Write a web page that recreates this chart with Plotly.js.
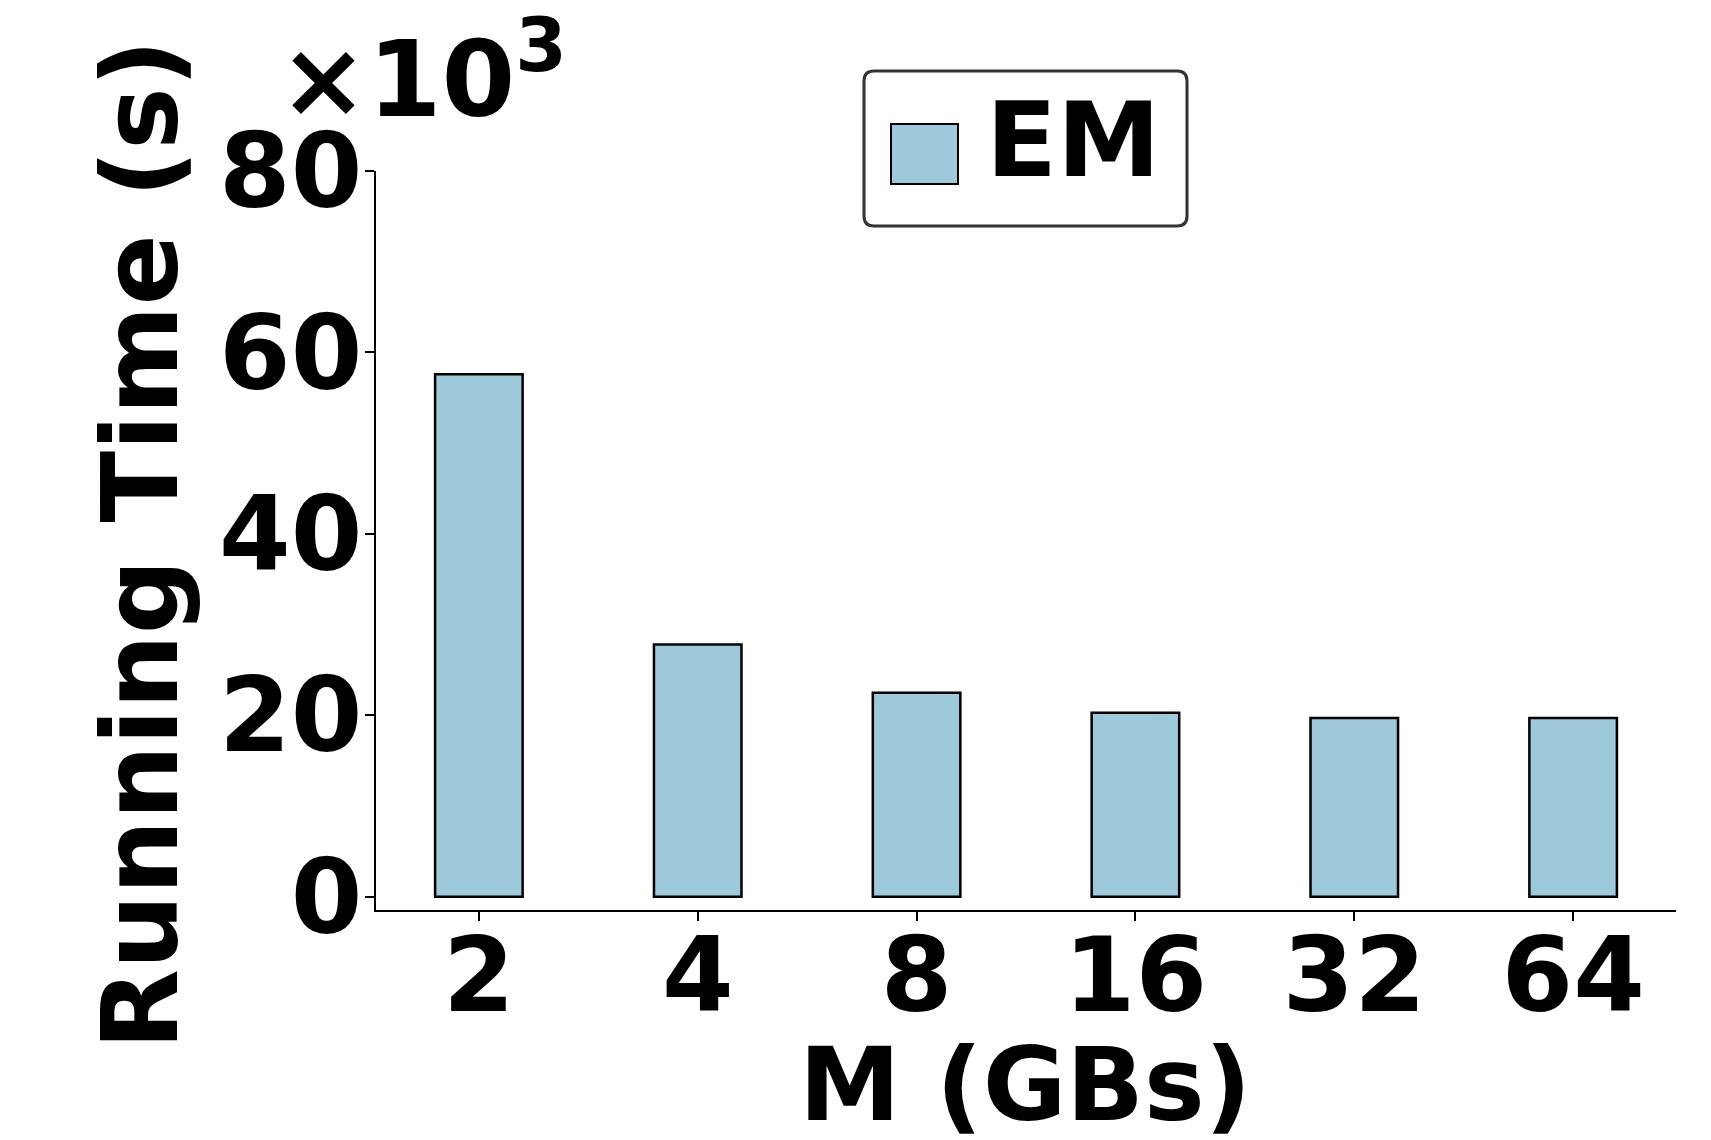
<!DOCTYPE html>
<html>
<head>
<meta charset="utf-8">
<script src="https://cdn.plot.ly/plotly-3.0.1.min.js"></script>
<style>html,body{margin:0;padding:0;background:#fff;}#chart{width:1711px;height:1140px;}</style>
</head>
<body>
<div id="chart"></div>
<script>
// Data
const memorySizes = ['2', '4', '8', '16', '32', '64'];
const runningTimeSec = [57600, 27800, 22500, 20300, 19700, 19700];
const seriesName = 'EM';
const yTickVals = [0, 20000, 40000, 60000, 80000];
const yTickText = ['0', '20', '40', '60', '80'];
const xTitle = 'M (GBs)';
const yTitle = 'Running Time (s)';

const FONT = {family: 'DejaVu Sans, Verdana, sans-serif', weight: 'bold', color: '#000'};
const BAR_COLOR = '#9dc9db';

const trace = {
  type: 'bar',
  name: seriesName,
  x: memorySizes,
  y: runningTimeSec,
  width: 0.4,
  marker: {color: BAR_COLOR, line: {color: '#000', width: 2.5}},
  showlegend: false,
  hoverinfo: 'x+y'
};

const L = 376, R = 35, T = 171, B = 230, W = 1711, H = 1140;
const pw = W - L - R, ph = H - T - B;
const px = v => (v - L) / pw;
const py = v => (H - B - v) / ph;

// custom legend geometry (pixels)
const lx0 = 864, lx1 = 1187, ly0 = 71, ly1 = 226, rr = 10;
const rx = rr / pw, ry = rr / ph;
const X0 = px(lx0), X1 = px(lx1), Y0 = py(ly1), Y1 = py(ly0);
const roundedPath = `M ${X0 + rx},${Y0} L ${X1 - rx},${Y0} Q ${X1},${Y0} ${X1},${Y0 + ry} L ${X1},${Y1 - ry} Q ${X1},${Y1} ${X1 - rx},${Y1} L ${X0 + rx},${Y1} Q ${X0},${Y1} ${X0},${Y1 - ry} L ${X0},${Y0 + ry} Q ${X0},${Y0} ${X0 + rx},${Y0} Z`;

const layout = {
  width: W, height: H,
  margin: {l: L, r: R, t: T, b: B, pad: 0},
  paper_bgcolor: '#fff', plot_bgcolor: '#fff',
  font: Object.assign({size: 100}, FONT),
  xaxis: {
    type: 'category',
    range: [-0.47, 5.47],
    showline: true, linecolor: '#000', linewidth: 2,
    ticks: 'outside', ticklen: 9, tickwidth: 2, tickcolor: '#000',
    tickfont: Object.assign({size: 103}, FONT),
    ticklabelstandoff: -34,
    showgrid: false, zeroline: false,
    automargin: false
  },
  yaxis: {
    range: [-1450, 80000],
    showline: true, linecolor: '#000', linewidth: 2,
    ticks: 'outside', ticklen: 9, tickwidth: 2, tickcolor: '#000',
    tickvals: yTickVals, ticktext: yTickText,
    tickfont: Object.assign({size: 103}, FONT),
    ticklabelstandoff: -18,
    showgrid: false, zeroline: false,
    automargin: false
  },
  shapes: [
    {type: 'path', xref: 'paper', yref: 'paper', path: roundedPath,
     fillcolor: 'rgba(255,255,255,0.8)', line: {color: '#333', width: 3}},
    {type: 'rect', xref: 'paper', yref: 'paper',
     x0: px(891), x1: px(958), y0: py(184), y1: py(124),
     fillcolor: BAR_COLOR, line: {color: '#000', width: 2}}
  ],
  annotations: [
    {text: xTitle, xref: 'paper', yref: 'paper', x: px(1025), y: py(1084),
     xanchor: 'center', yanchor: 'middle', showarrow: false,
     font: Object.assign({size: 102}, FONT)},
    {text: yTitle, xref: 'paper', yref: 'paper', x: px(141), y: py(545),
     xanchor: 'center', yanchor: 'middle', textangle: -90, showarrow: false,
     font: Object.assign({size: 105}, FONT)},
    {text: seriesName, xref: 'paper', yref: 'paper', x: px(984), y: py(140),
     xanchor: 'left', yanchor: 'middle', showarrow: false,
     font: Object.assign({size: 104}, FONT)},
    {text: '×10<sup>3</sup>', xref: 'paper', yref: 'paper', x: px(277), y: py(143),
     xanchor: 'left', yanchor: 'bottom', showarrow: false,
     font: Object.assign({size: 106}, FONT)}
  ]
};

Plotly.newPlot('chart', [trace], layout, {displayModeBar: false, staticPlot: true});
</script>
</body>
</html>
